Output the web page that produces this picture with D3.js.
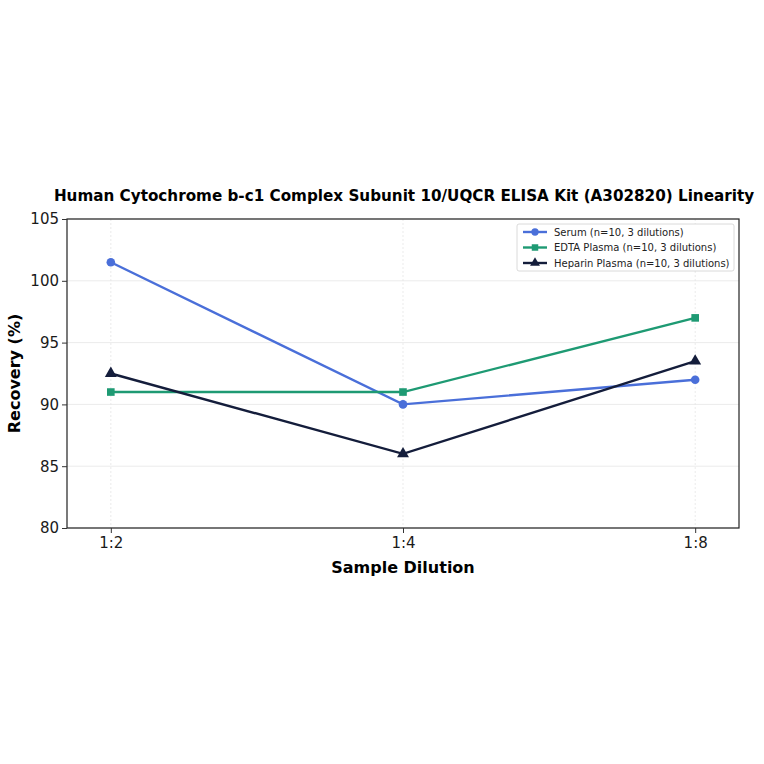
<!DOCTYPE html>
<html>
<head>
<meta charset="utf-8">
<script src="https://cdn.jsdelivr.net/npm/d3@7"></script>
<style>
  body { margin: 0; background: #fff; }
  svg { font-family: "DejaVu Sans", sans-serif; }
  .grid line { stroke: #e6e6e6; stroke-width: 0.8; }
  .axis path, .axis line { stroke: #333; }
</style>
</head>
<body>
<div id="chart"></div>
<script>
const categories = ['1:2', '1:4', '1:8'];
const serum = [101.5, 90, 92];
const edta = [91, 91, 97];
const heparin = [92.5, 86, 93.5];
const yTicks = [80, 85, 90, 95, 100, 105];

const series = [
    { name: 'Serum (n=10, 3 dilutions)', values: serum, color: '#4a6fd9', symbol: d3.symbolCircle },
    { name: 'EDTA Plasma (n=10, 3 dilutions)', values: edta, color: '#1e9a73', symbol: d3.symbolSquare },
    { name: 'Heparin Plasma (n=10, 3 dilutions)', values: heparin, color: '#141d3b', symbol: d3.symbolTriangle }
];

const W = 764, H = 764;
const margin = { top: 219, right: 25, bottom: 236, left: 67 };
const width = W - margin.left - margin.right;
const height = H - margin.top - margin.bottom;

const svg = d3.select('#chart').append('svg')
    .attr('width', W).attr('height', H);

const g = svg.append('g')
    .attr('transform', `translate(${margin.left},${margin.top})`);

const x = d3.scaleLinear()
    .domain([-0.15, categories.length - 1 + 0.15])
    .range([0, width]);

const y = d3.scaleLinear()
    .domain([80, 105])
    .range([height, 0]);

// Grid
g.append('g').attr('class', 'grid')
    .selectAll('line.h').data(yTicks).enter().append('line')
    .attr('x1', 0).attr('x2', width)
    .attr('y1', d => y(d)).attr('y2', d => y(d));

g.append('g').attr('class', 'grid')
    .selectAll('line.v').data(categories).enter().append('line')
    .attr('x1', (d, i) => x(i)).attr('x2', (d, i) => x(i))
    .attr('y1', 0).attr('y2', height)
    .attr('stroke-dasharray', '2,2');

// Lines and markers
const line = d3.line()
    .x((d, i) => x(i))
    .y(d => y(d));

series.forEach(s => {
    g.append('path')
        .datum(s.values)
        .attr('fill', 'none')
        .attr('stroke', s.color)
        .attr('stroke-width', 2.4)
        .attr('d', line);

    g.selectAll(null)
        .data(s.values)
        .enter().append('path')
        .attr('transform', (d, i) => `translate(${x(i)},${y(d)})`)
        .attr('d', d3.symbol().type(s.symbol).size(s.symbol === d3.symbolTriangle ? 62 : 58))
        .attr('fill', s.color);
});

// Frame
g.append('rect')
    .attr('width', width).attr('height', height)
    .attr('fill', 'none').attr('stroke', '#222').attr('stroke-width', 1.2);

// X axis
const xAxis = g.append('g')
    .attr('class', 'axis')
    .attr('transform', `translate(0,${height})`)
    .call(d3.axisBottom(x).tickValues(d3.range(categories.length)).tickFormat(i => categories[i]).tickSize(5).tickPadding(4));
xAxis.attr('font-size', 15).attr('font-family', 'DejaVu Sans');
xAxis.select('.domain').remove();
xAxis.selectAll('text').attr('fill', '#1a1a1a');

// Y axis
const yAxis = g.append('g')
    .attr('class', 'axis')
    .call(d3.axisLeft(y).tickValues(yTicks).tickSize(5).tickPadding(3));
yAxis.attr('font-size', 15).attr('font-family', 'DejaVu Sans');
yAxis.select('.domain').remove();
yAxis.selectAll('text').attr('fill', '#1a1a1a');

// Labels
svg.append('text')
    .attr('x', margin.left + width / 2).attr('y', 573)
    .attr('text-anchor', 'middle')
    .attr('font-size', 16).attr('font-weight', 'bold')
    .text('Sample Dilution');

svg.append('text')
    .attr('transform', `translate(20,${margin.top + height / 2}) rotate(-90)`)
    .attr('text-anchor', 'middle')
    .attr('font-size', 16).attr('font-weight', 'bold')
    .text('Recovery (%)');

svg.append('text')
    .attr('x', 404).attr('y', 201)
    .attr('text-anchor', 'middle')
    .attr('font-size', 15.2).attr('font-weight', 'bold')
    .text('Human Cytochrome b-c1 Complex Subunit 10/UQCR ELISA Kit (A302820) Linearity');

// Legend
const legend = g.append('g')
    .attr('transform', `translate(${width - 222},5)`);

legend.append('rect')
    .attr('width', 217).attr('height', 47)
    .attr('rx', 2)
    .attr('fill', '#fff').attr('stroke', '#d0d0d0').attr('stroke-width', 0.8);

series.forEach((s, i) => {
    const row = legend.append('g')
        .attr('transform', `translate(6,${8 + i * 15.5})`);
    row.append('line')
        .attr('x1', 0).attr('x2', 24)
        .attr('stroke', s.color).attr('stroke-width', 2.4);
    row.append('path')
        .attr('transform', 'translate(12,0)')
        .attr('d', d3.symbol().type(s.symbol).size(42))
        .attr('fill', s.color);
    row.append('text')
        .attr('x', 31).attr('y', 3.5)
        .attr('font-size', 10).attr('fill', '#222')
        .text(s.name);
});
</script>
</body>
</html>
